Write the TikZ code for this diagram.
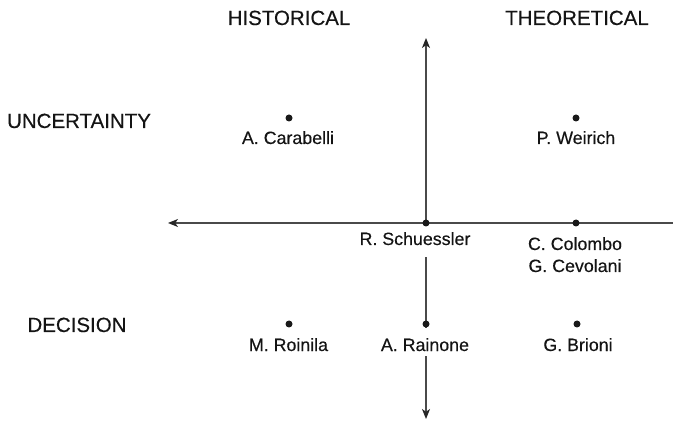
\documentclass[tikz,border=0pt]{standalone}
\usepackage{fontspec}
\setmainfont[FakeBold=0.35]{Liberation Sans}
\usetikzlibrary{arrows.meta}
\definecolor{axisgrey}{HTML}{4A4A4A}
\definecolor{textgrey}{HTML}{141414}
\tikzset{
  heading/.style={font=\fontsize{20.5}{24}\selectfont, text=textgrey, anchor=base, inner sep=0pt},
  name label/.style={font=\fontsize{17.8}{22}\selectfont, text=textgrey, anchor=base, inner sep=0pt},
  dot/.style={circle, fill=black!90, inner sep=0pt, minimum size=7pt},
  axis/.style={draw=axisgrey, line width=1.2pt},
  axtip/.tip={Stealth[length=10pt, width=8pt, inset=2.8pt, fill=black!85, color=black!85]}
}
\begin{document}
\begin{tikzpicture}[x=1pt, y=1pt]
\useasboundingbox (0,0) rectangle (673,421);
% axis ends
\coordinate (top) at (426,383);
\coordinate (bottom) at (426,2);
\coordinate (left) at (168,198);
\coordinate (right) at (674,198);
\draw[axis, axtip-axtip] (bottom) -- (top);
\draw[axis, -axtip] (right) -- (left);
% headings
\node[heading] (hist) at (289,396) {HISTORICAL};
\node[heading] (theo) at (577,396) {THEORETICAL};
\node[heading] (unc) at (79,293) {UNCERTAINTY};
\node[heading] (dec) at (77,89) {DECISION};
% labels
\node[name label] (carabelli) at (288,277) {A. Carabelli};
\node[name label] (weirich) at (576,277) {P. Weirich};
\node[name label, fill=white, text height=13pt, text depth=6pt, inner ysep=6pt, inner xsep=1pt] (schuessler) at (415,176) {R. Schuessler};
\node[name label] (colombo) at (575,171) {C. Colombo};
\node[name label] (cevolani) at (575,149) {G. Cevolani};
\node[name label] (roinila) at (288.5,70) {M. Roinila};
\node[name label, fill=white, text height=18pt, text depth=0pt, inner ysep=5pt, inner xsep=1pt] (rainone) at (425,70) {A. Rainone};
\node[name label] (brioni) at (578,70) {G. Brioni};
% dots
\node[dot] (dcarabelli) at (289,303) {};
\node[dot] (dweirich) at (576,303) {};
\node[dot] (dschuessler) at (426,198) {};
\node[dot] (dcolombo) at (576,198) {};
\node[dot] (droinila) at (289,97) {};
\node[dot] (drainone) at (426,97) {};
\node[dot] (dbrioni) at (577,97) {};
\end{tikzpicture}
\end{document}
